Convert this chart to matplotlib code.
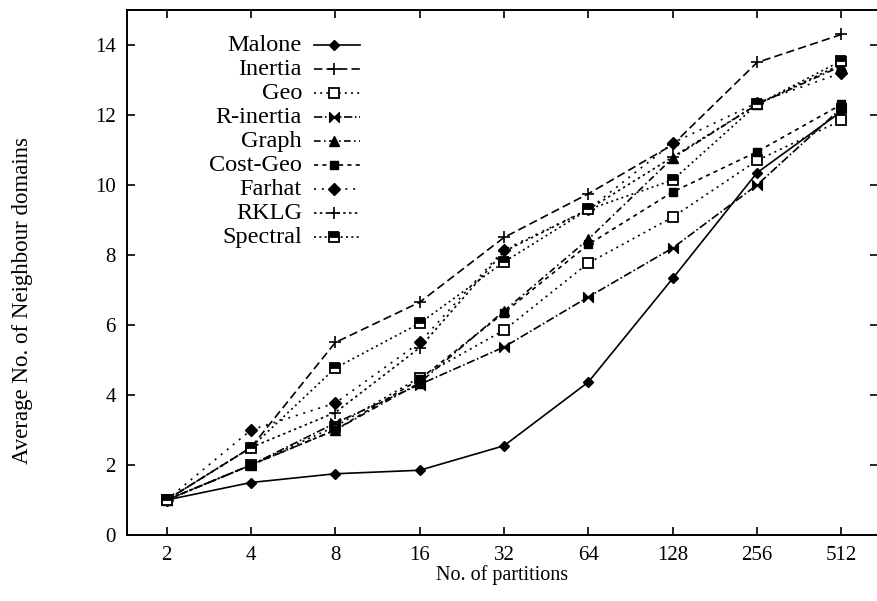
import matplotlib
matplotlib.use("Agg")
import matplotlib.pyplot as plt
from matplotlib.path import Path

plt.rcParams["font.family"] = ["Liberation Serif", "DejaVu Serif"]

# number of partitions (log2 spaced categories)
partitions = [2, 4, 8, 16, 32, 64, 128, 256, 512]

malone = [1.0, 1.5, 1.75, 1.85, 2.55, 4.37, 7.33, 10.35, 12.1]
inertia = [1.0, 2.5, 5.5, 6.65, 8.5, 9.75, 11.15, 13.5, 14.3]
geo = [1.0, 2.0, 3.1, 4.5, 5.85, 7.77, 9.08, 10.7, 11.85]
r_inertia = [1.0, 2.0, 3.2, 4.3, 5.37, 6.8, 8.2, 10.0, 12.2]
graph = [1.0, 2.0, 3.0, 4.35, 6.4, 8.45, 10.77, 12.3, 13.4]
cost_geo = [1.0, 2.0, 3.0, 4.45, 6.35, 8.3, 9.8, 10.95, 12.3]
farhat = [1.0, 3.0, 3.77, 5.5, 8.15, 9.3, 11.2, 12.35, 13.2]
rklg = [1.0, 2.5, 3.5, 5.35, 8.1, 9.3, 10.8, 12.3, 13.45]
spectral = [1.0, 2.5, 4.77, 6.05, 7.8, 9.3, 10.14, 12.3, 13.55]

# bowtie marker for R-inertia
bowtie = Path([(-1, -1), (1, 1), (1, -1), (-1, 1), (-1, -1)],
              [Path.MOVETO, Path.LINETO, Path.LINETO, Path.LINETO, Path.CLOSEPOLY])

series = [
    ("Malone", malone, dict(ls="-", marker="D", ms=5, mfc="k")),
    ("Inertia", inertia, dict(ls=(0, (5, 2.5)), marker="+", ms=9, mew=1.2)),
    ("Geo", geo, dict(ls=(0, (1.2, 2.5)), marker="s", ms=7, mfc="white", mew=1.3)),
    ("R-inertia", r_inertia, dict(ls=(0, (5, 1.5, 1, 1.5)), marker=bowtie, ms=7, mfc="k")),
    ("Graph", graph, dict(ls=(0, (4, 2, 1, 2)), marker="^", ms=7, mfc="k")),
    ("Cost-Geo", cost_geo, dict(ls=(0, (2.5, 2.5)), marker="s", ms=6, mfc="k")),
    ("Farhat", farhat, dict(ls=(0, (1.2, 3.5)), marker="D", ms=6, mfc="k")),
    ("RKLG", rklg, dict(ls=(0, (1.5, 2)), marker="+", ms=9, mew=1.2)),
    ("Spectral", spectral, dict(ls=(0, (1.2, 2)), marker="s", ms=7, fillstyle="top",
                                mfc="k", mfcalt="white", mew=1.3)),
]

fig = plt.figure(figsize=(8.78, 6.01), dpi=100)
ax = fig.add_axes([0.1446, 0.1098, 0.855, 0.8736])

xs = list(range(len(partitions)))
for name, vals, style in series:
    ax.plot(xs, vals, color="k", lw=1.2, mec="k", **style)

# hand-made legend: right-aligned names, handle on the right
ax_w = 0.855 * 878
ax_h = 0.8736 * 601
def to_ax(px, py):
    return (px - 127) / ax_w, (535 - py) / ax_h

for i, (name, vals, style) in enumerate(series):
    py = 45 + i * 24
    tx, ty = to_ax(302, py)
    ax.text(tx, ty, name, transform=ax.transAxes, ha="right", va="center",
            fontsize=17.5)
    x0, yy = to_ax(314, py)
    x1, _ = to_ax(360, py)
    xm, _ = to_ax(334, py)
    st = dict(style)
    mk = {k: st.pop(k) for k in list(st) if k.startswith("m") or k == "fillstyle"}
    ax.plot([x0, x1], [yy, yy], color="k", lw=1.2, transform=ax.transAxes,
            clip_on=False, **st)
    ax.plot([xm], [yy], color="k", mec="k", ls="none", transform=ax.transAxes,
            clip_on=False, **mk)

ax.set_xlim(-0.47, 8.43)
ax.set_ylim(0, 15)
ax.set_xticks(xs)
ax.set_xticklabels([str(p) for p in partitions])
ax.set_yticks(range(0, 15, 2))
ax.tick_params(direction="in", top=True, right=True, length=6, width=1.2,
               labelsize=15, pad=8)
for sp in ax.spines.values():
    sp.set_linewidth(1.4)

ax.set_xlabel("No. of partitions", fontsize=14.5, labelpad=0)
ax.set_ylabel("Average No. of Neighbour domains", fontsize=16.5)
ax.yaxis.set_label_coords(*to_ax(33, 300))

fig.savefig("out.png", dpi=100)
